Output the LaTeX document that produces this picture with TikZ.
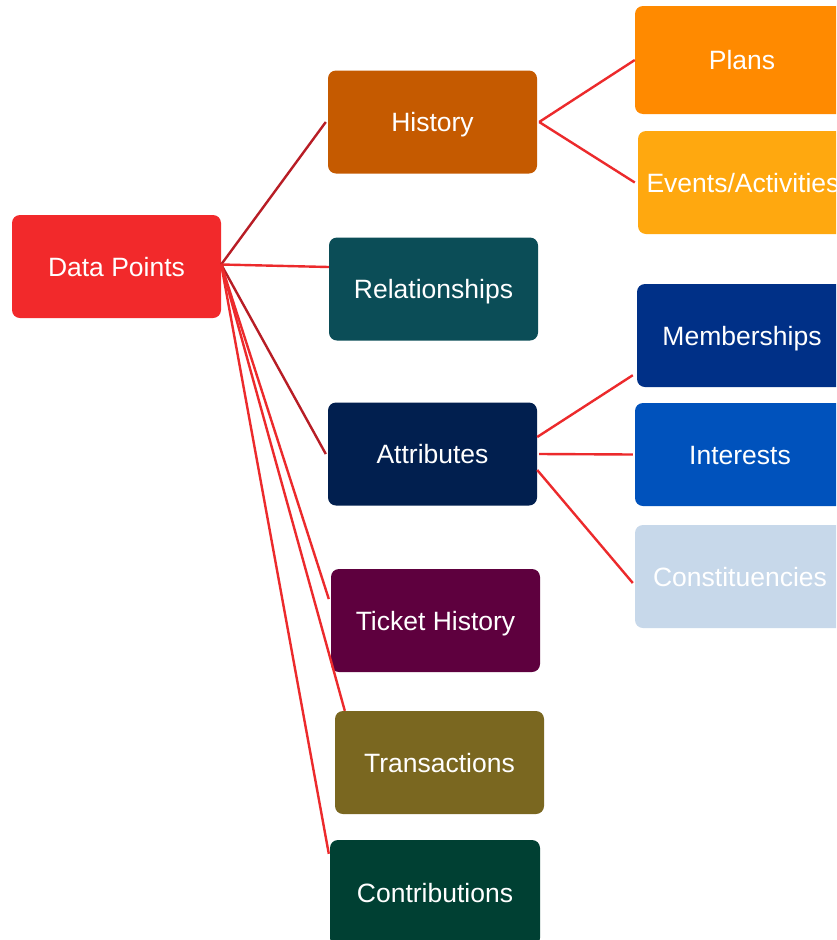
\documentclass[tikz,border=0pt]{standalone}
\usepackage{fontspec}
\setmainfont{Liberation Sans}
\definecolor{cDP}{HTML}{F2292B}
\definecolor{cHist}{HTML}{C55A00}
\definecolor{cRel}{HTML}{0B4D57}
\definecolor{cAttr}{HTML}{011F4F}
\definecolor{cTick}{HTML}{5E003E}
\definecolor{cTrans}{HTML}{7A6720}
\definecolor{cContr}{HTML}{004033}
\definecolor{cPlans}{HTML}{FF8A00}
\definecolor{cEvents}{HTML}{FFA80F}
\definecolor{cMemb}{HTML}{003087}
\definecolor{cInt}{HTML}{0052BC}
\definecolor{cConst}{HTML}{C7D8EA}
\definecolor{lineRed}{HTML}{EC2A2C}
\definecolor{lineDark}{HTML}{B81D25}
\tikzset{
  box/.style={rectangle, rounded corners=8pt, inner sep=0pt, text=white,
    minimum width=209pt, minimum height=103pt, font=\fontsize{26.5}{30}\selectfont,
    text height=19pt, text depth=0pt},
  link/.style={draw=lineRed, line width=2.4pt},
  darklink/.style={draw=lineDark, line width=2.4pt}
}
\begin{document}
\begin{tikzpicture}[x=1pt,y=-1pt]
\useasboundingbox (0,0) rectangle (836,940);
\clip (0,0) rectangle (836,940);
\fill[white] (0,0) rectangle (836,940);
\node[box, fill=cDP] (dp) at (116.5,266.5) {Data Points};
\node[box, fill=cHist] (hist) at (432.5,122) {History};
\node[box, fill=cRel] (rel) at (433.5,289) {Relationships};
\node[box, fill=cAttr] (attr) at (432.5,454) {Attributes};
\node[box, fill=cTick] (tick) at (435.5,620.5) {Ticket History};
\node[box, fill=cTrans] (trans) at (439.5,762.5) {Transactions};
\node[box, fill=cContr, minimum width=210pt, minimum height=106pt] (contr) at (435,893) {Contributions};
\node[box, fill=cPlans, minimum width=214pt, minimum height=108pt] (plans) at (742,60) {Plans};
\node[box, fill=cEvents, minimum width=210pt] (events) at (743,182.5) {Events/Activities};
\node[box, fill=cMemb, minimum width=210pt] (memb) at (742,335.5) {Memberships};
\node[box, fill=cInt, minimum width=210pt] (int) at (740,454.5) {Interests};
\node[box, fill=cConst, minimum width=210pt] (const) at (740,576.5) {Constituencies};
% connectors from Data Points
\draw[darklink] ([yshift=2pt]dp.east) -- ([xshift=-2pt]hist.west);
\draw[link] ([yshift=2pt]dp.east) -- ([yshift=22pt]rel.west);
\draw[darklink] ([yshift=2pt]dp.east) -- ([xshift=-2pt]attr.west);
\draw[link] ([yshift=2pt]dp.east) -- ([yshift=21.5pt,xshift=-2pt]tick.west);
\draw[link] ([yshift=2pt]dp.east) -- ([xshift=10pt]trans.north west);
\draw[link] ([yshift=2pt]dp.east) -- ([yshift=-14pt,xshift=-1pt]contr.north west);
% History children
\draw[link] ([xshift=2pt]hist.east) -- (plans.west);
\draw[link] ([xshift=2pt]hist.east) -- ([xshift=-3pt]events.west);
% Attributes children
\draw[link] ([yshift=17pt]attr.east) -- ([yshift=12pt,xshift=-4pt]memb.south west);
\draw[link] ([xshift=2pt]attr.east) -- ([xshift=-2pt]int.west);
\draw[link] ([yshift=-16pt]attr.east) -- ([yshift=-6.5pt,xshift=-2pt]const.west);
\end{tikzpicture}
\end{document}
